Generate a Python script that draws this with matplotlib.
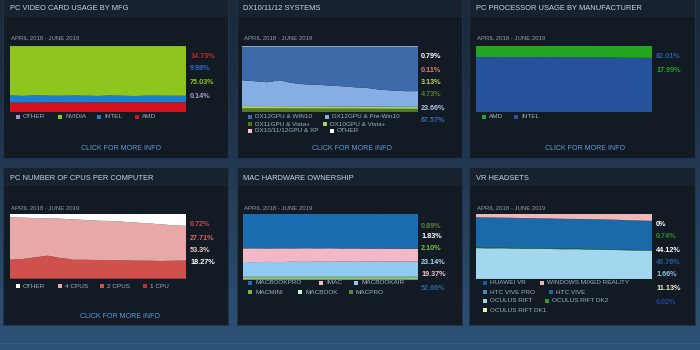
import numpy as np
import matplotlib.pyplot as plt
from matplotlib.patches import Rectangle
from matplotlib.colors import LinearSegmentedColormap

plt.rcParams['font.family'] = ['Liberation Sans', 'DejaVu Sans']

W, H = 700, 350
months = np.arange(15)  # April 2018 .. June 2019

# 1) PC video card usage by manufacturer (bottom -> top)
gpu_names = ['OTHER', 'NVIDIA', 'INTEL', 'AMD']
gpu_amd = [14.3, 14.2, 14.4, 14.5, 14.6, 14.4, 14.5, 14.6, 14.7, 14.5, 14.6, 14.7, 14.8, 14.7, 14.73]
gpu_intel = [10.8, 10.2, 10.9, 10.4, 10.0, 10.6, 10.3, 9.7, 10.4, 10.1, 9.6, 10.2, 10.0, 9.9, 9.98]
gpu_nvidia = [74.8, 75.5, 74.6, 75.0, 75.3, 74.9, 75.1, 75.6, 74.8, 75.3, 75.7, 75.0, 75.1, 75.3, 75.15]
gpu_other = [0.1, 0.1, 0.1, 0.1, 0.1, 0.1, 0.1, 0.1, 0.1, 0.1, 0.1, 0.1, 0.1, 0.1, 0.14]
gpu_labels = ['14.73%', '9.98%', '75.03%', '0.14%']

# 2) DX10/11/12 systems (bottom -> top)
dx_names = ['DX12GPU & WIN10', 'DX12GPU & Pre-Win10', 'DX11GPU & Vista+',
            'DX10GPU & Vista+', 'DX10/11/12GPU & XP', 'OTHER']
dx11_vista = [5.5, 5.5, 5.4, 5.4, 5.3, 5.3, 5.2, 5.2, 5.1, 5.1, 5.0, 4.9, 4.9, 4.8, 4.73]
dx10_vista = [3.5, 3.5, 3.5, 3.4, 3.4, 3.4, 3.3, 3.3, 3.3, 3.2, 3.2, 3.2, 3.1, 3.1, 3.13]
dx_xp = [0.2, 0.2, 0.2, 0.2, 0.2, 0.2, 0.2, 0.1, 0.1, 0.1, 0.1, 0.1, 0.1, 0.1, 0.11]
dx12_pre = [39.0, 37.5, 36.0, 39.0, 35.0, 33.0, 32.5, 31.5, 30.5, 29.0, 28.0, 25.5, 24.5, 23.5, 23.66]
dx12_win10 = [51.0, 52.5, 54.1, 51.2, 55.3, 57.3, 58.0, 59.1, 60.2, 61.8, 62.9, 65.5, 66.6, 67.7, 67.57]
dx_other = [0.8, 0.8, 0.8, 0.8, 0.8, 0.8, 0.8, 0.8, 0.8, 0.8, 0.8, 0.8, 0.8, 0.8, 0.79]
dx_labels = ['0.79%', '0.11%', '3.13%', '4.73%', '23.66%', '67.57%']

# 3) PC processor usage by manufacturer (bottom -> top)
cpu_intel = [83.4, 83.3, 83.4, 83.2, 83.3, 83.1, 83.2, 83.0, 82.9, 82.8, 82.6, 82.5, 82.3, 82.2, 82.01]
cpu_amd = [16.6, 16.7, 16.6, 16.8, 16.7, 16.9, 16.8, 17.0, 17.1, 17.2, 17.4, 17.5, 17.7, 17.8, 17.99]
cpu_labels = ['82.01%', '17.99%']

# 4) PC number of CPUs per computer (bottom -> top)
ncpu_1 = [0.8, 0.8, 0.8, 0.8, 0.8, 0.8, 0.8, 0.8, 0.8, 0.8, 0.8, 0.8, 0.8, 0.7, 0.72]
ncpu_2 = [28.9, 30.0, 32.5, 35.1, 31.5, 29.5, 29.5, 28.9, 28.4, 27.9, 27.4, 27.4, 26.9, 27.5, 27.71]
ncpu_4 = [65.2, 63.6, 60.5, 57.4, 60.5, 61.5, 60.5, 60.0, 60.0, 59.5, 58.5, 57.4, 56.4, 54.4, 53.3]
ncpu_other = [5.1, 5.6, 6.2, 6.7, 7.2, 8.2, 9.2, 10.3, 10.8, 11.8, 13.3, 14.4, 15.9, 17.4, 18.27]
ncpu_labels = ['0.72%', '27.71%', '53.3%', '18.27%']

# 5) Mac hardware ownership (bottom -> top)
mac_pro = [0.9, 0.9, 0.9, 0.9, 0.9, 0.9, 0.9, 0.9, 0.9, 0.9, 0.9, 0.9, 0.9, 0.9, 0.89]
mac_book = [1.8, 1.8, 1.8, 1.8, 1.8, 1.8, 1.8, 1.8, 1.8, 1.8, 1.8, 1.8, 1.8, 1.8, 1.83]
mac_mini = [2.1, 2.1, 2.1, 2.1, 2.1, 2.1, 2.1, 2.1, 2.1, 2.1, 2.1, 2.1, 2.1, 2.1, 2.10]
mac_air = [22.5, 22.3, 22.6, 22.4, 22.8, 22.6, 22.9, 22.7, 23.0, 22.8, 23.1, 22.9, 23.2, 23.0, 23.14]
mac_imac = [20.6, 20.9, 20.4, 20.8, 20.3, 20.7, 20.2, 20.6, 19.9, 20.3, 19.7, 20.0, 19.5, 19.6, 19.37]
mac_mbp = [52.1, 52.0, 52.2, 52.0, 52.1, 51.9, 52.1, 51.9, 52.3, 52.1, 52.4, 52.2, 52.5, 52.6, 52.66]
mac_labels = ['0.89%', '1.83%', '2.10%', '23.14%', '19.37%', '52.66%']

# 6) VR headsets (bottom -> top)
vr_dk1 = [0.1, 0.1, 0.1, 0.1, 0.1, 0.1, 0.1, 0.1, 0.1, 0.1, 0.1, 0.0, 0.0, 0.0, 0.02]
vr_rift = [47.5, 47.0, 47.2, 46.6, 46.4, 46.5, 46.0, 45.7, 45.8, 45.2, 45.0, 44.6, 44.2, 43.8, 43.6]
vr_dk2 = [1.0, 1.0, 0.9, 0.9, 0.9, 0.9, 0.8, 0.8, 0.8, 0.8, 0.8, 0.8, 0.7, 0.7, 0.74]
vr_vive = [46.4, 46.6, 46.2, 46.5, 46.3, 46.0, 46.2, 46.0, 45.7, 46.0, 45.8, 45.9, 45.6, 45.5, 45.1]
vr_wmr = [5.0, 5.3, 5.6, 5.9, 6.3, 6.5, 6.9, 7.4, 7.6, 7.9, 8.3, 8.7, 9.5, 10.0, 10.5]
vr_labels = ['0%', '0.74%', '44.12%', '40.76%', '1.66%', '11.13%', '0.02%']

# ---------------------------------------------------------------------------
fig = plt.figure(figsize=(W / 100, H / 100), dpi=100)
bg = fig.add_axes([0, 0, 1, 1])
bg.set_xlim(0, W)
bg.set_ylim(H, 0)
bg.axis('off')

# page gradient
grad = np.linspace(0, 1, 256)[:, None]
page_cmap = LinearSegmentedColormap.from_list('page', ['#1a2838', '#1f3249', '#27425f', '#2d5478'])
bg.imshow(grad, extent=(0, W, H, 0), cmap=page_cmap, aspect='auto', zorder=0)
bg.axhline(343, color='#3a6390', lw=0.8, alpha=0.5, zorder=1)

panel_x = [(3, 228), (237, 462), (469, 695)]
panel_y = [(-2, 158), (167, 325)]
for (y0, y1) in panel_y:
    for (x0, x1) in panel_x:
        bg.add_patch(Rectangle((x0, y0), x1 - x0, y1 - y0, facecolor='#121a24',
                               edgecolor='#22344a', lw=0.8, zorder=2))
        bg.add_patch(Rectangle((x0 + 0.5, y0 + 0.5), x1 - x0 - 1, 18, facecolor='#18222f',
                               lw=0, zorder=2))

TITLE_C = '#c7d5e0'
DATE_C = '#8f9eae'
LEG_C = '#9fb0c4'
CLICK_C = '#5b9de0'


def text(x, y, s, size=5, color=TITLE_C, weight='normal', ha='left'):
    bg.text(x, y, s, fontsize=size, color=color, weight=weight, ha=ha, va='center', zorder=5)


def chart(x0, y0, x1, y1, series, colors):
    ax = fig.add_axes([x0 / W, 1 - y1 / H, (x1 - x0) / W, (y1 - y0) / H])
    ax.stackplot(months, *series, colors=colors, lw=0)
    ax.set_xlim(months[0], months[-1])
    ax.set_ylim(0, 100)
    ax.axis('off')
    return ax


def legend(items, x_rows, y_rows):
    for (name, col), x, y in zip(items, x_rows, y_rows):
        bg.add_patch(Rectangle((x, y - 2.2), 4.4, 4.4, facecolor=col, lw=0, zorder=5))
        text(x + 7, y, name, size=4.6, color=LEG_C)


def labels(x, ys, vals, cols):
    for y, v, c in zip(ys, vals, cols):
        text(x, y, v, size=5.2, color=c, weight='bold')


# panel 1
text(10, 9, 'PC VIDEO CARD USAGE BY MFG', size=5.4)
text(11, 38, 'APRIL 2018 - JUNE 2019', size=4.3, color=DATE_C)
chart(10, 46, 186, 112, [gpu_amd, gpu_intel, gpu_nvidia, gpu_other],
      ['#d4111c', '#1b7fd1', '#8ec51e', '#a894c8'])
labels(190, [56, 69, 82, 97], gpu_labels, ['#c3282c', '#2a6fc0', '#8cc21e', '#a898c8'])
legend(list(zip(gpu_names, ['#a894c8', '#8ec51e', '#1b7fd1', '#d4111c'])),
       [16, 58, 97, 135], [117, 117, 117, 117])
text(121, 149, 'CLICK FOR MORE INFO', size=5, color=CLICK_C, ha='center')

# panel 2
text(243, 9, 'DX10/11/12 SYSTEMS', size=5.4)
text(244, 38, 'APRIL 2018 - JUNE 2019', size=4.3, color=DATE_C)
chart(242, 46, 418, 112, [dx11_vista, dx10_vista, dx_xp, dx12_pre, dx12_win10, dx_other],
      ['#4d7a23', '#a6d05c', '#f2c6c6', '#87aee4', '#3e6aa9', '#ffffff'])
labels(421, [57, 70, 82, 95, 108, 120], dx_labels,
       ['#ffffff', '#e0776e', '#b9d46a', '#4f7d2d', '#a9c6ec', '#3d6aa8'])
legend(list(zip(dx_names, ['#3e6aa9', '#87aee4', '#4d7a23', '#a6d05c', '#f2c6c6', '#ffffff'])),
       [248, 325, 248, 323, 248, 330], [117, 117, 124, 124, 131, 131])
text(352, 149, 'CLICK FOR MORE INFO', size=5, color=CLICK_C, ha='center')

# panel 3
text(476, 9, 'PC PROCESSOR USAGE BY MANUFACTURER', size=5.4)
text(477, 38, 'APRIL 2018 - JUNE 2019', size=4.3, color=DATE_C)
chart(476, 46, 652, 112, [cpu_intel, cpu_amd], ['#25529a', '#22a622'])
labels(656, [57, 70], cpu_labels, ['#2b5aa0', '#27a027'])
legend([('AMD', '#22a622'), ('INTEL', '#25529a')], [482, 514], [117, 117])
text(585, 149, 'CLICK FOR MORE INFO', size=5, color=CLICK_C, ha='center')

# panel 4
text(10, 178, 'PC NUMBER OF CPUS PER COMPUTER', size=5.4)
text(11, 208, 'APRIL 2018 - JUNE 2019', size=4.3, color=DATE_C)
chart(10, 214, 186, 279, [ncpu_1, ncpu_2, ncpu_4, ncpu_other],
      ['#b83232', '#d0504c', '#e8a8a8', '#ffffff'])
labels(190, [225, 238, 250, 263], ncpu_labels, ['#c44a48', '#d86460', '#f0c8c8', '#ffffff'])
legend(list(zip(['OTHER', '4 CPUS', '2 CPUS', '1 CPU'],
                ['#ffffff', '#e8a8a8', '#d0504c', '#b83232'])),
       [16, 58, 100, 143], [286, 286, 286, 286])
bg.add_patch(Rectangle((67, 259), 39, 10.5, facecolor='#ffffff', edgecolor='#dddddd', lw=0.5, zorder=6))
bg.text(86.5, 264, '1 CPU 0.9', fontsize=4.8, color='#222222', ha='center', va='center', zorder=7)
text(120, 317, 'CLICK FOR MORE INFO', size=5, color=CLICK_C, ha='center')

# panel 5
text(243, 178, 'MAC HARDWARE OWNERSHIP', size=5.4)
text(244, 208, 'APRIL 2018 - JUNE 2019', size=4.3, color=DATE_C)
ax5 = chart(243, 214, 418, 280, [mac_pro, mac_book, mac_mini, mac_air, mac_imac, mac_mbp],
            ['#5f8a2a', '#d2f0c4', '#78b850', '#90c9f1', '#f2b8c6', '#1a6db0'])
labels(421, [226, 237, 249, 263, 275, 289], mac_labels,
       ['#5d7f3c', '#ffffff', '#80c040', '#a8d4f2', '#f2c4d0', '#2a64a4'])
legend(list(zip(['MACBOOKPRO', 'IMAC', 'MACBOOKAIR', 'MACMINI', 'MACBOOK', 'MACPRO'],
                ['#1a6db0', '#f2b8c6', '#90c9f1', '#78b850', '#d2f0c4', '#5f8a2a'])),
       [248, 319, 354, 248, 298, 349], [283, 283, 283, 292, 292, 292])

# panel 6
text(476, 178, 'VR HEADSETS', size=5.4)
text(477, 208, 'APRIL 2018 - JUNE 2019', size=4.3, color=DATE_C)
chart(476, 214, 652, 279, [vr_dk1, vr_rift, vr_dk2, vr_vive, vr_wmr],
      ['#f0f0c0', '#a2d8ef', '#2f9a2f', '#1a69a8', '#f2b6b6'])
labels(656, [225, 236, 250, 263, 275, 289, 302], vr_labels,
       ['#ffffff', '#2f8a2f', '#ffffff', '#2a5890', '#8fbde0', '#f4f0d0', '#2244a0'])
legend(list(zip(['HUAWEI VR', 'WINDOWS MIXED REALITY', 'HTC VIVE PRO', 'HTC VIVE',
                 'OCULUS RIFT', 'OCULUS RIFT DK2', 'OCULUS RIFT DK1'],
                ['#1a56a8', '#f2b6b6', '#4a88b8', '#1a69a8', '#a2d8ef', '#2f9a2f', '#f0f0c0'])),
       [483, 540, 483, 549, 483, 545, 483], [283, 283, 292, 292, 301, 301, 310])

fig.savefig('out.png', dpi=100)
